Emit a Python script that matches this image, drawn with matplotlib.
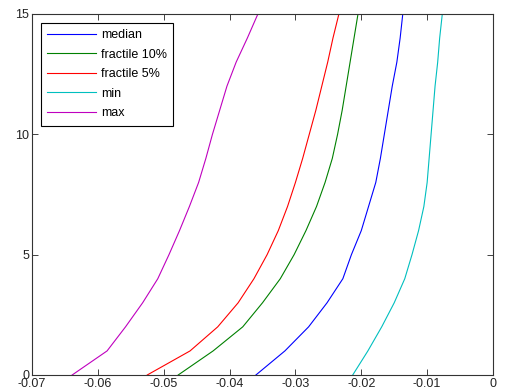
import matplotlib.pyplot as plt

# level on the vertical axis, one point per integer step
levels = list(range(16))

median = [-0.0360, -0.0316, -0.0280, -0.0252, -0.0228, -0.0215, -0.0200, -0.0189,
          -0.0178, -0.0171, -0.0165, -0.0159, -0.0153, -0.0146, -0.0141, -0.0137]
fractile10 = [-0.0478, -0.0425, -0.0380, -0.0350, -0.0323, -0.0302, -0.0284, -0.0268,
              -0.0255, -0.0244, -0.0236, -0.0229, -0.0223, -0.0217, -0.0211, -0.0205]
fractile5 = [-0.0525, -0.0460, -0.0418, -0.0387, -0.0363, -0.0343, -0.0326, -0.0312,
             -0.0300, -0.0289, -0.0279, -0.0269, -0.0260, -0.0251, -0.0243, -0.0234]
minimum = [-0.0213, -0.0190, -0.0169, -0.0150, -0.0134, -0.0123, -0.0113, -0.0105,
           -0.0100, -0.0097, -0.0094, -0.0091, -0.0088, -0.0084, -0.0081, -0.0077]
maximum = [-0.0639, -0.0586, -0.0558, -0.0532, -0.0509, -0.0492, -0.0476, -0.0461,
           -0.0447, -0.0436, -0.0426, -0.0415, -0.0404, -0.0390, -0.0373, -0.0357]

names = ['median', 'fractile 10%', 'fractile 5%', 'min', 'max']
colors = ['#0000ff', '#008000', '#ff0000', '#00bfbf', '#bf00bf']

plt.rcParams['font.family'] = ['Liberation Sans', 'DejaVu Sans']

fig = plt.figure(figsize=(5.07, 3.92), dpi=100)
ax = fig.add_axes([0.0631, 0.0434, 0.9093, 0.9209])

for xs, name, c in zip([median, fractile10, fractile5, minimum, maximum], names, colors):
    ax.plot(xs, levels, color=c, lw=0.8, label=name)

ax.set_xlim(-0.07, 0)
ax.set_ylim(0, 15)
ax.set_xticks([-0.07, -0.06, -0.05, -0.04, -0.03, -0.02, -0.01, 0])
ax.set_xticklabels(['-0.07', '-0.06', '-0.05', '-0.04', '-0.03', '-0.02', '-0.01', '0'])
ax.set_yticks([0, 5, 10, 15])
ax.tick_params(direction='in', top=True, right=True, length=4, width=0.6,
               labelsize=9, pad=2, colors='#222222')
for s in ax.spines.values():
    s.set_linewidth(0.8)
    s.set_color('#333333')

leg = ax.legend(loc='upper left', bbox_to_anchor=(0.0195, 0.975), borderaxespad=0,
                fancybox=False, edgecolor='black', framealpha=1, fontsize=9,
                handlelength=3.9, handletextpad=0.4, labelspacing=0.6, borderpad=0.5)
leg.get_frame().set_linewidth(0.8)

fig.savefig('out.png', dpi=100)
